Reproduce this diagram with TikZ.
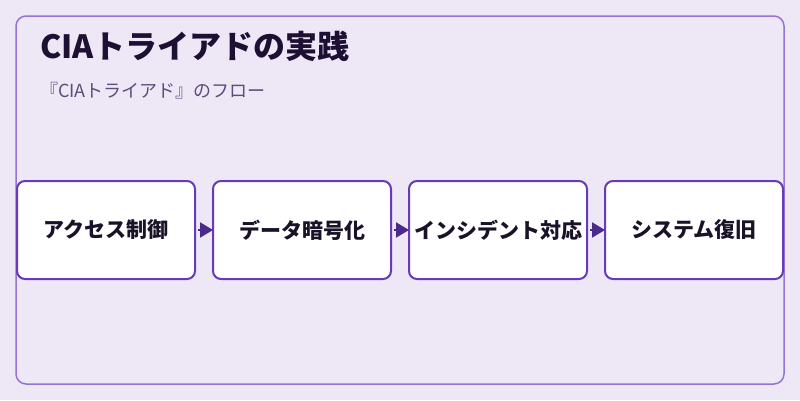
\documentclass[tikz,border=0pt]{standalone}
\usepackage{fontspec}
\setmainfont{Noto Sans CJK JP}
\usetikzlibrary{positioning,arrows.meta}
\definecolor{bgcol}{HTML}{EDE7F6}
\definecolor{framecol}{HTML}{9575CD}
\definecolor{boxcol}{HTML}{673AB7}
\definecolor{arrcol}{HTML}{4A2A8A}
\definecolor{titlecol}{HTML}{1E1033}
\definecolor{subcol}{HTML}{5E4D7A}
\definecolor{textcol}{HTML}{1A1228}

\begin{document}
\begin{tikzpicture}[x=1pt,y=-1pt]
				\tikzset{stepbox/.style={draw=boxcol,line width=2pt,fill=white,rounded corners=8pt,minimum width=178pt,minimum height=98pt,inner sep=0pt,outer sep=0pt,text=textcol,font=\bfseries\fontsize{21}{24}\selectfont}}
				\tikzset{flow/.style={draw=arrcol,line width=2pt,shorten <=3pt,-{Triangle[length=13pt,width=15pt]},arrcol}}
				\useasboundingbox (0,0) rectangle (800,400);
				\fill[bgcol] (0,0) rectangle (800,400);
				\draw[framecol,line width=1.5pt,rounded corners=10pt] (16,16) rectangle (784,384);
				\node[anchor=base west,text=titlecol,font=\bfseries\fontsize{32}{36}\selectfont,inner sep=0pt] (title) at (40,58) {CIAトライアドの実践};
				\node[anchor=base west,text=subcol,font=\fontsize{18}{22}\selectfont,inner sep=0pt] (subtitle) at (40,97) {『CIAトライアド』のフロー};
				\node[stepbox] (access) at (106,230) {アクセス制御};
				\node[stepbox,right=18pt of access] (crypt) {データ暗号化};
				\node[stepbox,right=18pt of crypt] (incident) {インシデント対応};
				\node[stepbox,right=18pt of incident] (recover) {システム復旧};
				\draw[flow] (access) -- (crypt);
				\draw[flow] (crypt) -- (incident);
				\draw[flow] (incident) -- (recover);
			\end{tikzpicture}
\end{document}
